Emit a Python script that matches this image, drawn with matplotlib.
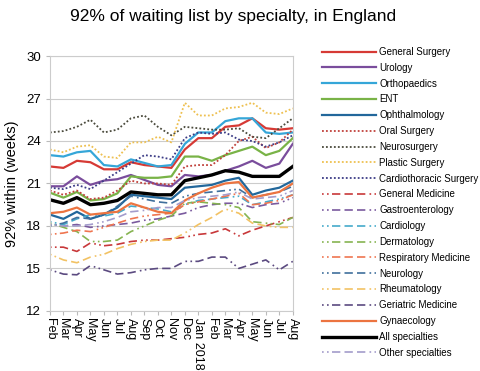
import matplotlib
matplotlib.use("Agg")
import matplotlib.pyplot as plt

plt.rcParams["font.family"] = ["Liberation Sans", "DejaVu Sans"]

months = ["Feb", "Mar", "Apr", "May", "Jun", "Jul", "Aug", "Sep", "Oct", "Nov",
          "Dec", "Jan 2018", "Feb", "Mar", "Apr", "May", "Jun", "Jul", "Aug"]

general_surgery = [22.2, 22.1, 22.6, 22.5, 22.0, 22.0, 22.5, 22.3, 22.2, 22.1,
                   23.4, 24.2, 24.2, 25.0, 25.1, 25.6, 24.9, 24.8, 24.9]
urology = [20.8, 20.8, 21.5, 20.9, 21.2, 21.3, 21.6, 21.25, 20.9, 20.8,
           21.6, 21.5, 21.6, 21.9, 22.2, 22.6, 22.1, 22.4, 23.8]
orthopaedics = [23.0, 22.9, 23.2, 23.3, 22.3, 22.2, 22.7, 22.45, 22.2, 22.3,
                23.8, 24.6, 24.6, 25.4, 25.6, 25.6, 24.6, 24.5, 24.6]
ent = [20.35, 20.0, 20.4, 19.8, 19.9, 20.3, 21.5, 21.4, 21.4, 21.5,
       22.9, 22.9, 22.6, 23.0, 23.3, 23.6, 23.0, 23.3, 24.2]
ophthalmology = [18.8, 18.5, 19.0, 18.5, 18.8, 19.3, 20.2, 20.1, 20.0, 19.9,
                 20.7, 20.8, 20.9, 21.2, 21.4, 20.2, 20.5, 20.7, 21.2]
oral_surgery = [20.5, 20.2, 20.5, 19.9, 20.0, 20.5, 21.2, 21.0, 21.0, 20.9,
                22.2, 22.3, 22.3, 23.0, 24.0, 24.3, 23.5, 23.9, 24.8]
neurosurgery = [24.6, 24.7, 25.0, 25.5, 24.6, 24.8, 25.6, 25.8, 25.0, 24.4,
                25.0, 24.9, 24.8, 24.8, 24.9, 24.3, 24.2, 24.9, 25.6]
plastic_surgery = [23.4, 23.2, 23.6, 23.7, 22.9, 22.8, 23.9, 23.9, 24.3, 23.9,
                   26.7, 25.8, 25.8, 26.3, 26.4, 26.7, 26.0, 25.9, 26.3]
cardiothoracic = [20.7, 20.6, 20.9, 20.6, 21.2, 21.8, 22.4, 23.0, 22.9, 22.7,
                  24.2, 24.6, 24.5, 24.6, 24.1, 24.0, 23.6, 23.9, 24.4]
general_medicine = [16.5, 16.5, 16.2, 16.8, 16.6, 16.7, 16.9, 17.0, 17.0, 17.1,
                    17.2, 17.4, 17.5, 17.8, 17.3, 17.7, 18.0, 18.3, 18.6]
gastroenterology = [18.1, 18.0, 18.1, 17.9, 18.0, 18.1, 18.2, 18.4, 18.5, 18.7,
                    18.9, 19.3, 19.5, 19.6, 19.6, 19.3, 19.5, 19.6, 20.0]
cardiology = [18.3, 18.1, 18.5, 18.8, 18.7, 18.9, 19.4, 19.3, 19.2, 19.0,
              19.5, 19.8, 19.9, 20.0, 20.1, 19.5, 19.7, 19.9, 20.2]
dermatology = [18.2, 17.9, 17.6, 16.9, 16.9, 17.0, 17.6, 18.0, 18.4, 18.7,
               19.6, 19.7, 19.6, 19.5, 19.3, 18.3, 18.2, 18.1, 18.6]
respiratory = [17.4, 17.5, 17.7, 17.6, 17.9, 18.2, 18.5, 18.7, 18.8, 18.9,
               19.5, 19.7, 19.9, 20.1, 20.3, 19.5, 19.6, 19.8, 20.2]
neurology = [18.0, 18.2, 18.6, 18.5, 18.8, 19.4, 20.1, 19.9, 19.7, 19.6,
             20.1, 20.3, 20.4, 20.5, 20.6, 20.0, 20.2, 20.4, 20.8]
rheumatology = [16.0, 15.6, 15.4, 15.8, 16.0, 16.4, 16.7, 16.9, 17.0, 17.0,
                17.5, 18.1, 18.6, 19.2, 18.9, 18.2, 18.0, 17.9, 17.9]
geriatric = [14.9, 14.6, 14.55, 15.2, 14.9, 14.6, 14.7, 14.9, 15.0, 15.0,
             15.5, 15.5, 15.8, 15.8, 15.0, 15.3, 15.6, 14.9, 15.5]
gynaecology = [18.9, 19.0, 19.3, 18.8, 18.9, 19.0, 19.6, 19.3, 19.0, 18.9,
               19.8, 20.3, 20.7, 21.0, 21.1, 20.0, 20.2, 20.4, 21.0]
all_specialties = [19.85, 19.6, 20.0, 19.5, 19.6, 19.8, 20.4, 20.3, 20.2, 20.2,
                   21.2, 21.4, 21.6, 21.9, 21.8, 21.5, 21.5, 21.5, 22.2]
other_specialties = [18.1, 18.0, 18.0, 18.1, 18.3, 18.6, 19.0, 19.1, 19.3, 19.3,
                     19.8, 20.0, 20.1, 20.2, 20.4, 19.9, 20.0, 20.1, 20.5]

solid = "-"
dotted = (0, (1, 1.2))
dashdot = (0, (1, 2, 1, 2, 5, 2.5, 5, 2.5, 5, 2.5))

# name, values, colour, style, width
series = [
    ("General Surgery", general_surgery, "#d63a35", solid, 1.6),
    ("Urology", urology, "#7a4d9c", solid, 1.6),
    ("Orthopaedics", orthopaedics, "#35a6d8", solid, 1.6),
    ("ENT", ent, "#79b347", solid, 1.6),
    ("Ophthalmology", ophthalmology, "#22679b", solid, 1.6),
    ("Oral Surgery", oral_surgery, "#c0413b", dotted, 1.3),
    ("Neurosurgery", neurosurgery, "#4a4a3c", dotted, 1.3),
    ("Plastic Surgery", plastic_surgery, "#eec050", dotted, 1.3),
    ("Cardiothoracic Surgery", cardiothoracic, "#3c3c86", dotted, 1.3),
    ("General Medicine", general_medicine, "#c8383a", dashdot, 1.2),
    ("Gastroenterology", gastroenterology, "#7a5a9e", dashdot, 1.2),
    ("Cardiology", cardiology, "#45aacb", dashdot, 1.2),
    ("Dermatology", dermatology, "#86b451", dashdot, 1.2),
    ("Respiratory Medicine", respiratory, "#ef7550", dashdot, 1.2),
    ("Neurology", neurology, "#3f6f9c", dashdot, 1.2),
    ("Rheumatology", rheumatology, "#f2c264", dashdot, 1.2),
    ("Geriatric Medicine", geriatric, "#5b4a80", dashdot, 1.2),
    ("Gynaecology", gynaecology, "#ec7440", solid, 1.6),
    ("All specialties", all_specialties, "#000000", solid, 2.4),
    ("Other specialties", other_specialties, "#a39ccb", dashdot, 1.2),
]

fig = plt.figure(figsize=(4.8, 3.71), dpi=100)
ax = fig.add_axes([0.104, 0.162, 0.506, 0.687])

x = list(range(len(months)))
for name, vals, col, ls, lw in series:
    ax.plot(x, vals, color=col, linestyle=ls, linewidth=lw, label=name)

ax.set_xlim(0, len(months) - 1)
ax.set_ylim(12, 30)
ax.set_yticks([12, 15, 18, 21, 24, 27, 30])
ax.set_xticks(x)
ax.set_xticklabels(months, rotation=270, fontsize=9)
ax.tick_params(axis="y", labelsize=9.5, length=3, color="#bbbbbb")
ax.tick_params(axis="x", length=3, color="#bbbbbb", pad=2)
ax.grid(axis="y", color="#cccccc", linewidth=0.8)
ax.set_axisbelow(True)
for sp in ax.spines.values():
    sp.set_color("#cccccc")
ax.set_ylabel("92% within (weeks)", fontsize=10.5, labelpad=5)

fig.text(0.485, 0.955, "92% of waiting list by specialty, in England",
         ha="center", va="center", fontsize=12.5)

fig.legend(loc="upper left", bbox_to_anchor=(0.663, 0.884), frameon=False,
           fontsize=7, handlelength=5.5, handletextpad=0.35,
           labelspacing=0.60, borderaxespad=0)

fig.savefig("out.png", dpi=100)
